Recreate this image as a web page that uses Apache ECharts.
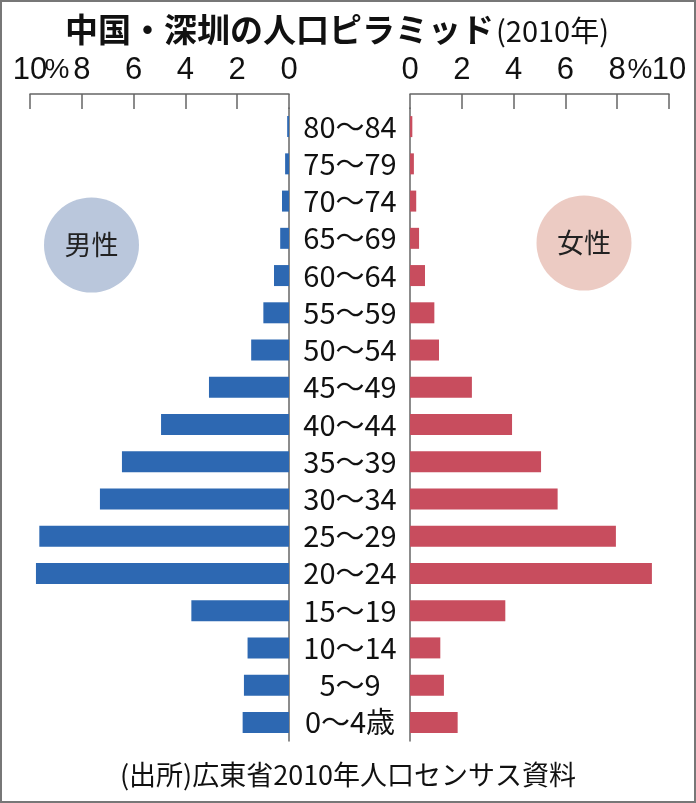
<!DOCTYPE html>
<html>
<head>
<meta charset="utf-8">
<script src="https://cdn.jsdelivr.net/npm/echarts@6/dist/echarts.min.js"></script>
<style>
html,body{margin:0;padding:0;background:#fff;}
#c{width:696px;height:803px;}
</style>
</head>
<body>
<div id="c"></div>
<script>
// Data (bottom to top)
const categories = ['0～4歳','5～9','10～14','15～19','20～24','25～29','30～34','35～39','40～44','45～49','50～54','55～59','60～64','65～69','70～74','75～79','80～84'];
const male   = [1.79, 1.74, 1.60, 3.77, 9.77, 9.64, 7.30, 6.45, 4.94, 3.09, 1.46, 0.99, 0.58, 0.34, 0.27, 0.15, 0.07];
const female = [1.84, 1.31, 1.17, 3.68, 9.34, 7.95, 5.70, 5.06, 3.94, 2.39, 1.12, 0.94, 0.58, 0.35, 0.24, 0.15, 0.09];
const axisMax = 10;
const axisInterval = 2;

const JP = '"Noto Sans CJK JP", "Noto Sans", sans-serif';
const NUM = '"Liberation Sans Narrow", "Liberation Sans", "Noto Sans CJK JP", sans-serif';
const MALE_COLOR = '#2d68b2';
const FEMALE_COLOR = '#c84d5e';
const AXIS_COLOR = '#666';

const chart = echarts.init(document.getElementById('c'), null, {renderer: 'canvas'});

function xAxisCfg(gridIndex, inverse) {
  return {
    type: 'value', gridIndex: gridIndex, min: 0, max: axisMax, interval: axisInterval,
    inverse: inverse, position: 'top', offset: 14,
    axisLine: {show: true, lineStyle: {color: AXIS_COLOR, width: 1.5}},
    axisTick: {show: true, inside: true, length: 15, lineStyle: {color: AXIS_COLOR, width: 1.5}},
    splitLine: {show: false},
    axisLabel: {fontSize: 31, color: '#111', fontFamily: NUM, margin: 8}
  };
}

chart.setOption({
  animation: false,
  backgroundColor: '#fff',
  title: {
    text: '{a|中国・深圳の人口ピラミッド}{b|(2010年)}',
    left: 60, top: 8,
    textStyle: {
      rich: {
        a: {fontSize: 33, fontWeight: 'bold', color: '#111', fontFamily: JP},
        b: {fontSize: 29, fontWeight: 'normal', color: '#111', fontFamily: JP, padding: [2, 0, 0, 2]}
      }
    }
  },
  grid: [
    {left: 30, width: 259, top: 108, height: 633},
    {left: 410, width: 259, top: 108, height: 633}
  ],
  xAxis: [xAxisCfg(0, true), xAxisCfg(1, false)],
  yAxis: [
    {
      type: 'category', gridIndex: 0, data: categories, position: 'right',
      axisLine: {show: true, lineStyle: {color: AXIS_COLOR, width: 1.5}},
      axisTick: {show: false},
      axisLabel: {show: true, interval: 0, align: 'center', margin: 61, fontSize: 29, color: '#111', fontFamily: JP}
    },
    {
      type: 'category', gridIndex: 1, data: categories, position: 'left',
      axisLine: {show: true, lineStyle: {color: AXIS_COLOR, width: 1.5}},
      axisTick: {show: false},
      axisLabel: {show: false}
    }
  ],
  series: [
    {type: 'bar', name: '男性', xAxisIndex: 0, yAxisIndex: 0, data: male, barWidth: 21,
     itemStyle: {color: MALE_COLOR}},
    {type: 'bar', name: '女性', xAxisIndex: 1, yAxisIndex: 1, data: female, barWidth: 21,
     itemStyle: {color: FEMALE_COLOR}}
  ],
  graphic: [
    {type: 'rect', shape: {x: 1, y: 1, width: 694, height: 801}, style: {fill: 'none', stroke: '#777', lineWidth: 2}, z: 100},
    {type: 'text', x: 57, y: 70, style: {text: '%', fontSize: 28, fontFamily: NUM, fill: '#111', textAlign: 'center', textVerticalAlign: 'middle'}},
    {type: 'text', x: 640, y: 70, style: {text: '%', fontSize: 28, fontFamily: NUM, fill: '#111', textAlign: 'center', textVerticalAlign: 'middle'}},
    {type: 'circle', shape: {cx: 91.5, cy: 245, r: 47.5}, style: {fill: '#bac7dc'}},
    {type: 'text', x: 91.5, y: 245, style: {text: '男性', fontSize: 27, fontFamily: JP, fill: '#222', textAlign: 'center', textVerticalAlign: 'middle'}},
    {type: 'circle', shape: {cx: 584, cy: 243, r: 47.5}, style: {fill: '#eccbc3'}},
    {type: 'text', x: 584, y: 243, style: {text: '女性', fontSize: 27, fontFamily: JP, fill: '#222', textAlign: 'center', textVerticalAlign: 'middle'}},
    {type: 'text', x: 348, y: 775, style: {text: '(出所)広東省2010年人口センサス資料', fontSize: 27, fontFamily: JP, fill: '#111', textAlign: 'center', textVerticalAlign: 'middle'}}
  ]
});
</script>
</body>
</html>
